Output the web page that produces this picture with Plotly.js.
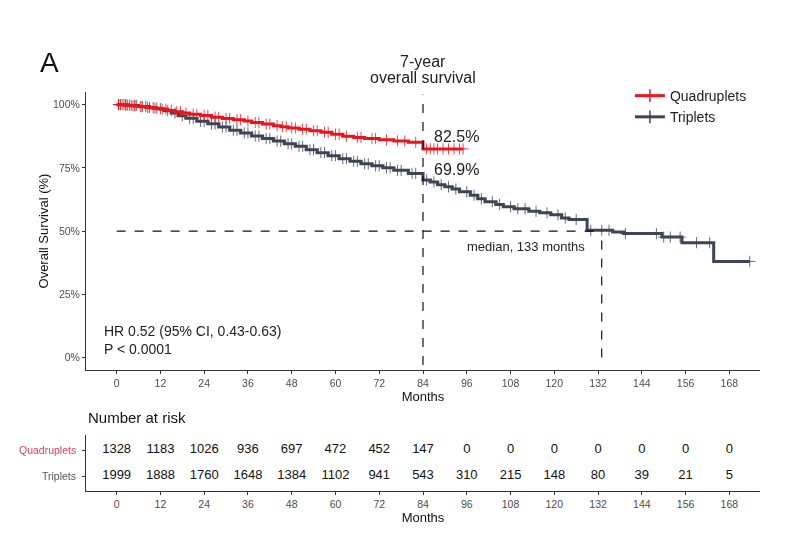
<!DOCTYPE html>
<html>
<head>
<meta charset="utf-8">
<script src="https://cdn.plot.ly/plotly-3.0.1.min.js"></script>
<style>html,body{margin:0;padding:0;background:#fff;}#chart{width:800px;height:546px;}</style>
</head>
<body>
<div id="chart"></div>
<script>
// ---- Kaplan-Meier step data (months, survival %) ----
var quadTimes = [0, 2, 4, 6, 8, 10, 12, 14, 16, 18, 20, 23, 26, 29, 32, 35, 37, 40, 43, 45, 47, 50, 53, 56, 59, 62, 65, 68, 72, 76, 80, 84, 95];
var quadSurv  = [100, 99.8, 99.5, 99.2, 98.9, 98.6, 98.2, 97.7, 97.2, 96.7, 96.2, 95.7, 95.0, 94.5, 94.0, 93.5, 92.9, 92.3, 91.7, 91.3, 90.8, 90.3, 89.7, 89.1, 88.3, 87.5, 87.0, 86.6, 86.1, 85.6, 85.1, 82.5, 82.5];

var tripTimes = [0, 3, 6, 9, 11, 13, 15, 17, 19, 22, 25, 28, 31, 34, 37, 40, 43, 46, 49, 52, 55, 58, 61, 64, 67, 70, 73, 76, 80, 84, 86, 88, 90, 92, 94, 97, 99, 101, 104, 106, 109, 113, 116, 119, 122, 124, 129, 136, 139, 149.5, 155, 163.7, 173.6];
var tripSurv  = [100, 99.7, 99.3, 98.8, 98.4, 97.6, 96.7, 95.6, 94.6, 93.4, 92.4, 91.2, 89.9, 88.8, 87.6, 86.6, 85.6, 84.5, 83.5, 82.2, 81.0, 79.8, 78.6, 77.6, 76.6, 75.8, 75.0, 74.0, 72.8, 70.2, 69.4, 68.3, 67.5, 66.6, 65.5, 64.2, 62.8, 61.6, 60.5, 59.6, 58.8, 57.8, 57.2, 56.4, 55.2, 54.6, 50.3, 49.6, 49.0, 47.6, 45.4, 38.0, 38.0];

// ---- censoring times (months) ----
var quadCens = [0.5, 1, 1.5, 2.5, 3, 3.5, 4.5, 5, 6.5, 7, 8.5, 9, 10.5, 11, 12.5, 13.5, 15, 16.5, 17.5, 19, 21, 22, 24, 25, 27, 28, 30, 31, 33, 34, 36, 38, 39, 41, 42, 44, 45.5, 46.5, 48, 49, 51, 52, 54, 55, 57, 58, 60, 61, 63, 66, 67, 70, 71, 74, 77, 79, 82, 85, 86, 87, 88, 89.5, 91, 92.5, 94, 95];
var tripCens = [0.5, 1, 2, 2.5, 4, 5, 5.5, 7, 8, 10, 12, 14, 16, 18, 20, 21, 23, 24, 26, 27, 29, 30, 32, 33, 35, 36, 38, 39, 41, 42, 44, 45, 47, 48, 50, 51, 53, 54, 56, 57, 59, 60, 62, 63, 65, 66, 68, 69, 71, 72, 74, 75, 77, 78, 81, 82, 85, 87, 89, 91, 93, 96, 98, 100, 103, 105, 108, 110, 112, 115, 118, 121, 123, 126, 130, 133, 135, 139.5, 148, 150, 151.8, 154.5, 159, 162.6, 173.6];

// ---- risk table ----
var riskTimes = [0, 12, 24, 36, 48, 60, 72, 84, 96, 108, 120, 132, 144, 156, 168];
var quadRisk = [1328, 1183, 1026, 936, 697, 472, 452, 147, 0, 0, 0, 0, 0, 0, 0];
var tripRisk = [1999, 1888, 1760, 1648, 1384, 1102, 941, 543, 310, 215, 148, 80, 39, 21, 5];

var groupNames = ['Quadruplets', 'Triplets'];
var xTicks = [0, 12, 24, 36, 48, 60, 72, 84, 96, 108, 120, 132, 144, 156, 168];
var yTicks = [0, 25, 50, 75, 100];
var yTickText = ['0%', '25%', '50%', '75%', '100%'];

var RED = '#e8161e', GRAY = '#3e4556';
var FONT = 'Liberation Sans, Arial, sans-serif';

function survAt(times, surv, t) {
  var v = surv[0];
  for (var i = 0; i < times.length; i++) { if (times[i] <= t) v = surv[i]; }
  return v;
}
function censY(times, surv, cens) { return cens.map(function (t) { return survAt(times, surv, t); }); }

var traces = [
  {x: tripTimes, y: tripSurv, type: 'scatter', mode: 'lines', line: {shape: 'hv', color: GRAY, width: 3}, showlegend: false, hoverinfo: 'skip'},
  {x: tripCens, y: censY(tripTimes, tripSurv, tripCens), type: 'scatter', mode: 'markers', marker: {symbol: 'cross-thin-open', size: 8, line: {color: GRAY, width: 1}, color: GRAY}, showlegend: false, hoverinfo: 'skip', opacity: 0.8},
  {x: quadTimes, y: quadSurv, type: 'scatter', mode: 'lines', line: {shape: 'hv', color: RED, width: 3}, showlegend: false, hoverinfo: 'skip'},
  {x: quadCens, y: censY(quadTimes, quadSurv, quadCens), type: 'scatter', mode: 'markers', marker: {symbol: 'cross-thin-open', size: 8, line: {color: RED, width: 1}, color: RED}, showlegend: false, hoverinfo: 'skip', opacity: 0.8},
  // legend entries
  {x: [null], y: [null], type: 'scatter', mode: 'lines+markers', name: groupNames[0], line: {color: RED, width: 3}, marker: {symbol: 'cross-thin-open', size: 9, line: {color: RED, width: 1.5}}},
  {x: [null], y: [null], type: 'scatter', mode: 'lines+markers', name: groupNames[1], line: {color: GRAY, width: 3}, marker: {symbol: 'cross-thin-open', size: 9, line: {color: GRAY, width: 1.5}}},
  // risk table
  {x: riskTimes, y: riskTimes.map(function () { return 2; }), text: quadRisk.map(String), type: 'scatter', mode: 'text', xaxis: 'x2', yaxis: 'y2', textfont: {family: FONT, size: 13, color: '#111'}, showlegend: false, hoverinfo: 'skip'},
  {x: riskTimes, y: riskTimes.map(function () { return 1; }), text: tripRisk.map(String), type: 'scatter', mode: 'text', xaxis: 'x2', yaxis: 'y2', textfont: {family: FONT, size: 13, color: '#111'}, showlegend: false, hoverinfo: 'skip'}
];

var axisCommon = {
  showgrid: false, zeroline: false, showline: true, linecolor: '#333', linewidth: 1,
  ticks: 'outside', ticklen: 3, tickcolor: '#333', tickfont: {family: FONT, size: 10.5, color: '#4d4d4d'}
};

var layout = {
  width: 800, height: 546,
  margin: {l: 86, r: 40, t: 92, b: 55},
  paper_bgcolor: '#fff', plot_bgcolor: '#fff',
  font: {family: FONT},
  xaxis: Object.assign({}, axisCommon, {range: [-8.4, 176.4], tickvals: xTicks, anchor: 'y', title: {text: 'Months', font: {family: FONT, size: 13, color: '#111'}, standoff: 2}}),
  yaxis: Object.assign({}, axisCommon, {range: [-5, 105], tickvals: yTicks, ticktext: yTickText, domain: [0.303, 1], anchor: 'x', title: {text: 'Overall Survival (%)', font: {family: FONT, size: 13, color: '#111'}, standoff: 1}}),
  xaxis2: Object.assign({}, axisCommon, {range: [-8.4, 176.4], tickvals: xTicks, anchor: 'y2', title: {text: 'Months', font: {family: FONT, size: 13, color: '#111'}, standoff: 2}}),
  yaxis2: Object.assign({}, axisCommon, {range: [0.42, 2.58], tickvals: [2, 1], showticklabels: false, domain: [0, 0.14], anchor: 'x2'}),
  legend: {x: 0.807, y: 1.03, xanchor: 'left', yanchor: 'top', font: {family: FONT, size: 14, color: '#222'}, bgcolor: 'rgba(0,0,0,0)', tracegroupgap: 0, itemwidth: 30},
  shapes: [
    {type: 'line', xref: 'x', yref: 'y', x0: 0, x1: 133, y0: 50, y1: 50, line: {color: '#111', width: 1.2, dash: 'dash'}},
    {type: 'line', xref: 'x', yref: 'y', x0: 84, x1: 84, y0: -3, y1: 104, line: {color: '#111', width: 1.2, dash: 'dash'}},
    {type: 'line', xref: 'x', yref: 'y', x0: 133, x1: 133, y0: 0, y1: 50, line: {color: '#111', width: 1.2, dash: 'dash'}}
  ],
  annotations: [
    {text: 'A', xref: 'paper', yref: 'paper', x: -0.071, y: 1.075, xanchor: 'left', yanchor: 'middle', showarrow: false, font: {family: FONT, size: 28, color: '#111'}},
    {text: '7-year', xref: 'x', yref: 'paper', x: 84, y: 1.077, xanchor: 'center', yanchor: 'middle', showarrow: false, font: {family: FONT, size: 16, color: '#222'}},
    {text: 'overall survival', xref: 'x', yref: 'paper', x: 84, y: 1.037, xanchor: 'center', yanchor: 'middle', showarrow: false, font: {family: FONT, size: 16, color: '#222'}},
    {text: '82.5%', xref: 'x', yref: 'y', x: 86.6, y: 87.3, xanchor: 'left', yanchor: 'middle', showarrow: false, font: {family: FONT, size: 16, color: '#222'}},
    {text: '69.9%', xref: 'x', yref: 'y', x: 86.6, y: 74.2, xanchor: 'left', yanchor: 'middle', showarrow: false, font: {family: FONT, size: 16, color: '#222'}},
    {text: 'median, 133 months', xref: 'x', yref: 'y', x: 112.3, y: 43.9, xanchor: 'center', yanchor: 'middle', showarrow: false, font: {family: FONT, size: 13, color: '#222'}},
    {text: 'HR 0.52 (95% CI, 0.43-0.63)<br>P &lt; 0.0001', xref: 'x', yref: 'y', x: -4.1, y: 6.9, xanchor: 'left', yanchor: 'middle', align: 'left', showarrow: false, font: {family: FONT, size: 14, color: '#222'}},
    {text: 'Number at risk', xref: 'paper', yref: 'paper', x: 0, y: 0.183, xanchor: 'left', yanchor: 'middle', showarrow: false, font: {family: FONT, size: 15, color: '#111'}},
    {text: groupNames[0], xref: 'paper', yref: 'y2', x: -0.012, y: 2, xanchor: 'right', yanchor: 'middle', showarrow: false, font: {family: FONT, size: 10.5, color: '#d8405c'}},
    {text: groupNames[1], xref: 'paper', yref: 'y2', x: -0.012, y: 1, xanchor: 'right', yanchor: 'middle', showarrow: false, font: {family: FONT, size: 10.5, color: '#555'}}
  ]
};

Plotly.newPlot('chart', traces, layout, {displayModeBar: false, staticPlot: true});
</script>
</body>
</html>
